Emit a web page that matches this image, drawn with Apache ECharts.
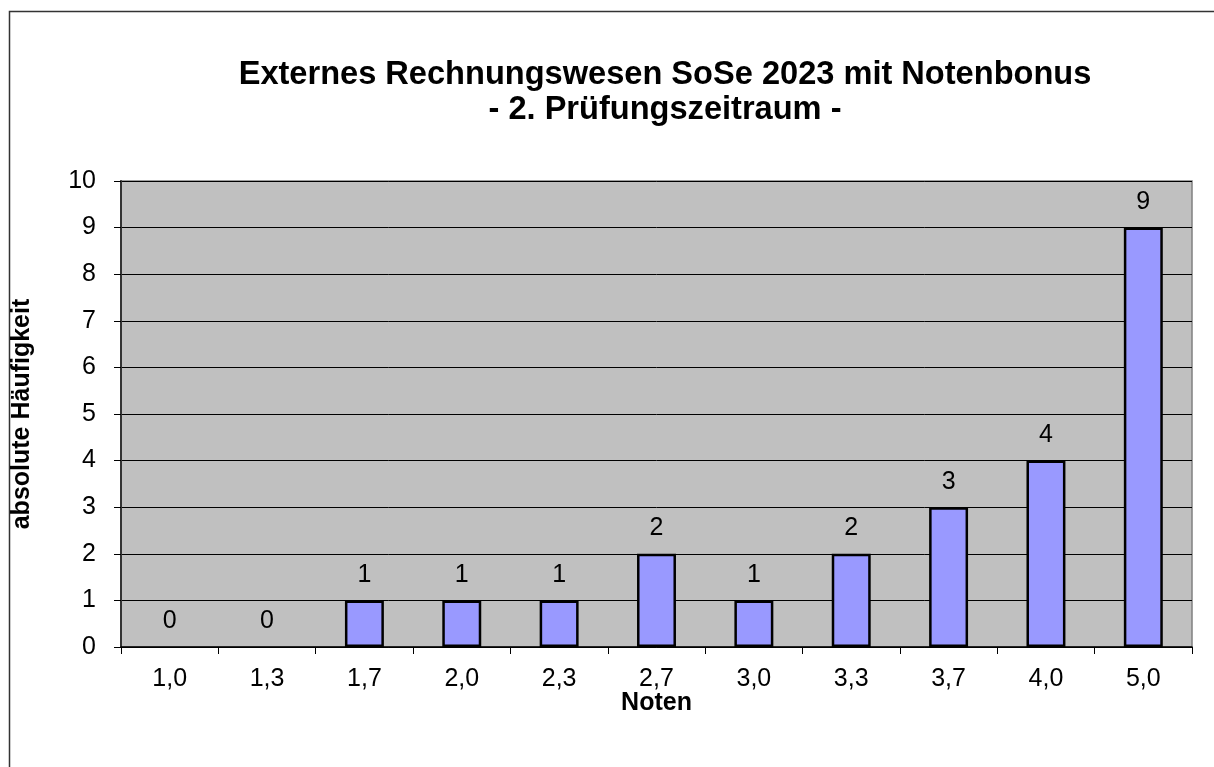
<!DOCTYPE html>
<html>
<head>
<meta charset="utf-8">
<script src="https://cdn.jsdelivr.net/npm/echarts@6/dist/echarts.min.js"></script>
<style>
  html, body { margin: 0; padding: 0; background: #fff; }
  #chart { width: 1214px; height: 767px; }
</style>
</head>
<body>
<div id="chart"></div>
<script>
// grades and how many students got each
const noten = ["1,0", "1,3", "1,7", "2,0", "2,3", "2,7", "3,0", "3,3", "3,7", "4,0", "5,0"];
const haeufigkeit = [0, 0, 1, 1, 1, 2, 1, 2, 3, 4, 9];

const titleLines = ["Externes Rechnungswesen SoSe 2023 mit Notenbonus", "- 2. Prüfungszeitraum -"];

const font = "Arial, 'Liberation Sans', sans-serif";

const chart = echarts.init(document.getElementById("chart"));

// empty bars should not leave a black outline on the axis
const barData = haeufigkeit.map((v) => (v === 0 ? { value: v, itemStyle: { borderWidth: 0 } } : v));

chart.setOption({
  animation: false,
  textStyle: { fontFamily: font },
  title: {
    text: titleLines.join("\n"),
    left: 660,
    textAlign: "center",
    top: 53,
    textStyle: {
      fontSize: 32.6,
      fontWeight: "bold",
      color: "#000",
      lineHeight: 35,
      fontFamily: font,
    },
  },
  graphic: [
    {
      type: "rect",
      shape: { x: 9.5, y: 11.5, width: 1230, height: 780 },
      style: { fill: null, stroke: "#333", lineWidth: 1.5 },
      silent: true,
    },
  ],
  grid: {
    left: 121,
    right: 22,
    top: 181,
    bottom: 120,
    show: true,
    backgroundColor: "#c0c0c0",
    borderColor: "#808080",
    borderWidth: 1.5,
  },
  xAxis: {
    type: "category",
    data: noten,
    name: "Noten",
    nameLocation: "middle",
    nameGap: 44,
    nameMoveOverlap: false,
    nameTextStyle: { fontSize: 25, fontWeight: "bold", color: "#000" },
    axisLine: { lineStyle: { color: "#000", width: 1.5 } },
    axisTick: { show: true, length: 7, alignWithLabel: false, lineStyle: { color: "#000" } },
    axisLabel: { fontSize: 25, color: "#000", margin: 20 },
  },
  yAxis: {
    type: "value",
    min: 0,
    max: 10,
    interval: 1,
    name: "absolute Häufigkeit",
    nameLocation: "middle",
    nameGap: 86,
    nameTextStyle: { fontSize: 25, fontWeight: "bold", color: "#000" },
    axisLine: { show: true, lineStyle: { color: "#333", width: 2 } },
    axisTick: { show: true, length: 7, lineStyle: { color: "#000" } },
    axisLabel: { fontSize: 25, color: "#000", margin: 25 },
    splitLine: { lineStyle: { color: "#000", width: 1 } },
  },
  series: [
    {
      type: "bar",
      data: barData,
      barWidth: "40%",
      itemStyle: { color: "#9999ff", borderColor: "#000", borderWidth: 2.5 },
      label: {
        show: true,
        position: "top",
        distance: 13,
        fontSize: 25,
        color: "#000",
      },
    },
  ],
});
</script>
</body>
</html>
